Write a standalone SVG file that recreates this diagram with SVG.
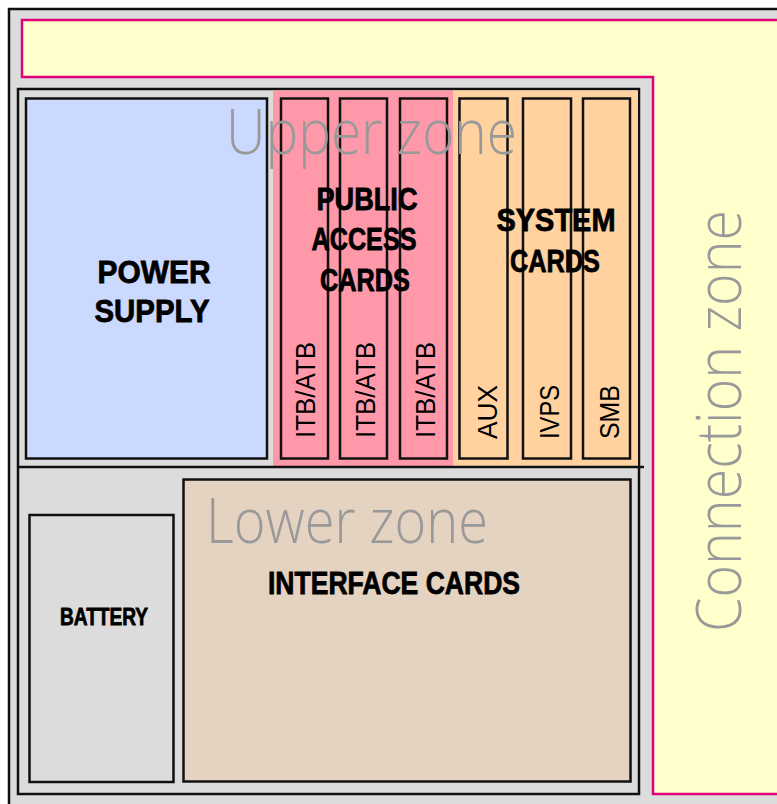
<svg xmlns="http://www.w3.org/2000/svg" width="777" height="804" viewBox="0 0 777 804">
<style>
.frame{fill:#dcdcdc;stroke:#111;stroke-width:2.5}
.card{stroke:#111;stroke-width:2.5}
.zone{font-family:"Open Sans","DejaVu Sans",sans-serif;font-weight:300;fill:#999999;font-size:62px}
.lbl{font-family:"Liberation Sans",Arial,sans-serif;font-weight:bold;fill:#000;stroke:#000;stroke-width:0.8;text-anchor:middle}
.slot{font-family:"Liberation Sans",Arial,sans-serif;fill:#000;font-size:28px}
</style>
<rect id="background" x="0" y="0" width="777" height="804" fill="#ffffff"/>
<g id="enclosure">
<rect class="frame" x="9" y="9" width="800" height="820"/>
</g>
<g id="connection-zone">
<polygon points="22,20 800,20 800,794 653,794 653,77 22,77" fill="#ffffcc" stroke="#e0007a" stroke-width="2.5"/>
<text class="zone" transform="translate(741,632) rotate(-90)" font-size="59" textLength="422" lengthAdjust="spacingAndGlyphs">Connection zone</text>
</g>
<g id="rack">
<rect class="frame" x="18" y="89" width="621" height="705"/>
</g>
<g id="public-access-area">
<rect x="273" y="90.5" width="180" height="376" fill="#ff99a9"/>
</g>
<g id="system-area">
<rect x="453" y="90.5" width="185" height="376" fill="#ffd29f"/>
</g>
<g id="power-supply">
<rect class="card" x="26" y="98.5" width="241" height="360" fill="#ccd9ff"/>
<text class="lbl" x="154" y="283" font-size="32" textLength="113" lengthAdjust="spacingAndGlyphs">POWER</text>
<text class="lbl" x="152" y="322" font-size="32" textLength="115" lengthAdjust="spacingAndGlyphs">SUPPLY</text>
</g>
<g id="itb-atb-1">
<rect class="card" x="281" y="98.5" width="47" height="360" fill="#ff99a9"/>
<text class="slot" transform="translate(315,438) rotate(-90)" textLength="96" lengthAdjust="spacingAndGlyphs">ITB/ATB</text>
</g>
<g id="itb-atb-2">
<rect class="card" x="340" y="98.5" width="47" height="360" fill="#ff99a9"/>
<text class="slot" transform="translate(375,438) rotate(-90)" textLength="96" lengthAdjust="spacingAndGlyphs">ITB/ATB</text>
</g>
<g id="itb-atb-3">
<rect class="card" x="400" y="98.5" width="47" height="360" fill="#ff99a9"/>
<text class="slot" transform="translate(435,438) rotate(-90)" textLength="96" lengthAdjust="spacingAndGlyphs">ITB/ATB</text>
</g>
<g id="aux">
<rect class="card" x="459.5" y="98.5" width="48" height="360" fill="#ffd29f"/>
<text class="slot" transform="translate(497,439) rotate(-90)" textLength="54" lengthAdjust="spacingAndGlyphs">AUX</text>
</g>
<g id="ivps">
<rect class="card" x="523" y="98.5" width="48" height="360" fill="#ffd29f"/>
<text class="slot" transform="translate(559,439) rotate(-90)" textLength="54" lengthAdjust="spacingAndGlyphs">IVPS</text>
</g>
<g id="smb">
<rect class="card" x="583" y="98.5" width="47" height="360" fill="#ffd29f"/>
<text class="slot" transform="translate(619,439) rotate(-90)" textLength="54" lengthAdjust="spacingAndGlyphs">SMB</text>
</g>
<g id="public-access-cards">
<text class="lbl" x="367" y="210" font-size="31" textLength="101" lengthAdjust="spacingAndGlyphs">PUBLIC</text>
<text class="lbl" x="364" y="250" font-size="31" textLength="105" lengthAdjust="spacingAndGlyphs">ACCESS</text>
<text class="lbl" x="365" y="291" font-size="31" textLength="90" lengthAdjust="spacingAndGlyphs">CARDS</text>
</g>
<g id="system-cards">
<text class="lbl" x="556" y="231" font-size="32" textLength="119" lengthAdjust="spacingAndGlyphs">SYSTEM</text>
<text class="lbl" x="555" y="272" font-size="32" textLength="90" lengthAdjust="spacingAndGlyphs">CARDS</text>
</g>
<g id="upper-zone">
<text class="zone" x="226" y="154" textLength="291" lengthAdjust="spacingAndGlyphs">Upper zone</text>
</g>
<g id="connectors">
<line x1="18" y1="467" x2="644" y2="467" stroke="#111" stroke-width="2.5"/>
</g>
<g id="battery">
<rect class="card" x="29.5" y="515" width="144" height="267" fill="#dcdcdc"/>
<text class="lbl" x="104" y="625" font-size="23" textLength="88" lengthAdjust="spacingAndGlyphs">BATTERY</text>
</g>
<g id="interface-cards">
<rect class="card" x="183.5" y="479.5" width="447" height="302" fill="#e5d3c1"/>
<text class="lbl" x="394" y="594" font-size="32" textLength="252" lengthAdjust="spacingAndGlyphs">INTERFACE CARDS</text>
</g>
<g id="lower-zone">
<text class="zone" x="206" y="543" textLength="282" lengthAdjust="spacingAndGlyphs">Lower zone</text>
</g>
</svg>
